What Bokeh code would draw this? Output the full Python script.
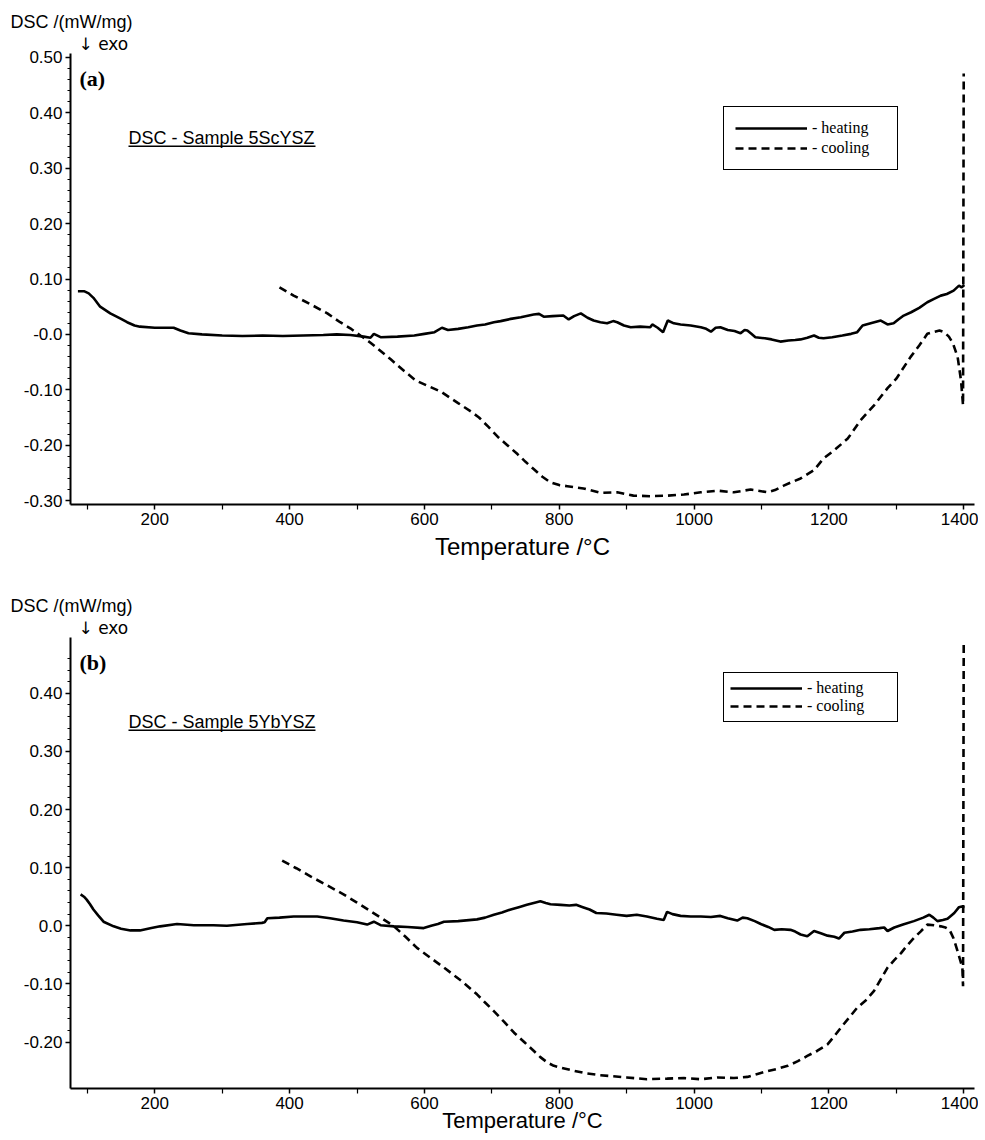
from bokeh.plotting import figure
from bokeh.layouts import column
from bokeh.models import (FixedTicker, CustomJSTickFormatter, Label, BoxAnnotation,
                          Legend, LegendItem, Range1d, Title)
from bokeh.embed import file_html
from bokeh.resources import INLINE

# ---------------- data ----------------
# Panel (a): Sample 5ScYSZ
a_heat_T = [86, 95, 102, 109, 119, 134, 150, 159, 170, 178, 200, 215, 228, 238, 250, 270, 300, 330,
            360, 390, 420, 450, 470, 490, 510, 520, 525, 535, 560, 585, 600, 615, 626, 635, 650, 665,
            678, 690, 703, 713, 728, 743, 762, 770, 777, 790, 806, 814, 822, 832, 842, 851, 861, 871,
            880, 886, 896, 906, 920, 935, 938, 946, 954, 961, 970, 980, 995, 1010, 1018, 1025, 1032,
            1039, 1050, 1060, 1069, 1075, 1079, 1085, 1091, 1105, 1115, 1128, 1140, 1150, 1158, 1168,
            1178, 1185, 1192, 1205, 1220, 1233, 1242, 1250, 1262, 1277, 1287, 1296, 1303, 1311, 1322,
            1334, 1346, 1356, 1366, 1375, 1385, 1393, 1397, 1401]
a_heat_v = [0.078, 0.078, 0.074, 0.066, 0.050, 0.038, 0.028, 0.022, 0.016, 0.014, 0.012, 0.012, 0.012,
            0.007, 0.002, 0.000, -0.002, -0.003, -0.002, -0.003, -0.002, -0.001, 0.000, -0.001, -0.004,
            -0.006, 0.001, -0.005, -0.004, -0.002, 0.001, 0.004, 0.012, 0.008, 0.010, 0.013, 0.016,
            0.018, 0.022, 0.024, 0.028, 0.031, 0.036, 0.037, 0.032, 0.033, 0.034, 0.027, 0.033, 0.038,
            0.030, 0.025, 0.022, 0.020, 0.024, 0.022, 0.016, 0.013, 0.014, 0.013, 0.018, 0.012, 0.004,
            0.025, 0.020, 0.018, 0.016, 0.013, 0.010, 0.005, 0.012, 0.013, 0.008, 0.006, 0.002, 0.008,
            0.007, 0.001, -0.005, -0.007, -0.009, -0.013, -0.011, -0.010, -0.009, -0.006, -0.002,
            -0.006, -0.007, -0.005, -0.002, 0.001, 0.004, 0.016, 0.020, 0.025, 0.018, 0.020, 0.027,
            0.034, 0.040, 0.048, 0.058, 0.064, 0.070, 0.073, 0.079, 0.088, 0.085, 0.089]
a_cool_T = [385, 406, 430, 456, 475, 490, 505, 520, 535, 550, 570, 587, 605, 624, 650, 670, 681, 695,
            709, 723, 738, 750, 762, 775, 787, 800, 812, 836, 861, 886, 910, 935, 961, 985, 1010, 1035,
            1059, 1084, 1109, 1120, 1133, 1146, 1158, 1178, 1192, 1208, 1228, 1247, 1267, 1287, 1300,
            1321, 1334, 1346, 1354, 1364, 1371, 1378, 1384, 1391, 1396, 1399, 1400]
a_cool_v = [0.085, 0.070, 0.055, 0.038, 0.022, 0.011, -0.002, -0.015, -0.030, -0.045, -0.066, -0.083,
            -0.093, -0.103, -0.124, -0.140, -0.150, -0.167, -0.185, -0.200, -0.216, -0.230, -0.243,
            -0.257, -0.267, -0.272, -0.274, -0.278, -0.286, -0.285, -0.291, -0.292, -0.291, -0.289,
            -0.285, -0.282, -0.285, -0.280, -0.285, -0.281, -0.273, -0.266, -0.260, -0.245, -0.224,
            -0.209, -0.188, -0.155, -0.128, -0.097, -0.080, -0.041, -0.020, 0.001, 0.004, 0.007, 0.004,
            -0.004, -0.016, -0.041, -0.083, -0.128, 0.471]

# Panel (b): Sample 5YbYSZ
b_heat_T = [90, 95, 99, 104, 109, 116, 124, 139, 150, 164, 178, 195, 208, 233, 258, 287, 307, 337, 359,
            363, 367, 385, 406, 441, 460, 480, 500, 515, 525, 535, 555, 575, 599, 610, 620, 629, 650,
            678, 690, 703, 715, 728, 740, 752, 765, 772, 780, 787, 802, 815, 825, 835, 845, 855, 870,
            885, 900, 915, 930, 945, 955, 960, 968, 980, 995, 1010, 1025, 1039, 1050, 1064, 1072, 1079,
            1090, 1099, 1110, 1119, 1130, 1143, 1150, 1158, 1168, 1178, 1188, 1198, 1208, 1215, 1223,
            1235, 1247, 1260, 1275, 1282, 1287, 1297, 1310, 1326, 1340, 1349, 1355, 1361, 1369, 1376,
            1386, 1393, 1397, 1401]
b_heat_v = [0.054, 0.050, 0.045, 0.037, 0.028, 0.018, 0.007, -0.001, -0.005, -0.008, -0.008, -0.004,
            -0.001, 0.003, 0.001, 0.001, 0.000, 0.003, 0.005, 0.006, 0.013, 0.014, 0.016, 0.016, 0.013,
            0.009, 0.006, 0.002, 0.007, 0.001, -0.001, -0.002, -0.004, 0.000, 0.003, 0.007, 0.008,
            0.011, 0.014, 0.019, 0.023, 0.028, 0.032, 0.036, 0.040, 0.042, 0.039, 0.037, 0.036, 0.035,
            0.036, 0.032, 0.028, 0.022, 0.021, 0.019, 0.017, 0.019, 0.016, 0.012, 0.010, 0.024, 0.020,
            0.017, 0.016, 0.016, 0.015, 0.017, 0.013, 0.009, 0.014, 0.013, 0.008, 0.003, -0.002, -0.007,
            -0.006, -0.007, -0.010, -0.015, -0.018, -0.009, -0.013, -0.017, -0.019, -0.022, -0.012,
            -0.010, -0.007, -0.006, -0.004, -0.003, -0.009, -0.003, 0.002, 0.008, 0.014, 0.019, 0.014,
            0.008, 0.010, 0.012, 0.022, 0.032, 0.033, 0.031]
b_cool_T = [389, 410, 431, 455, 480, 500, 520, 538, 555, 572, 589, 610, 629, 655, 678, 690, 703, 718,
            733, 748, 762, 772, 782, 792, 802, 820, 840, 860, 880, 900, 930, 960, 985, 1010, 1035, 1059,
            1079, 1094, 1109, 1124, 1139, 1154, 1168, 1183, 1198, 1208, 1218, 1230, 1242, 1255, 1267,
            1277, 1287, 1297, 1307, 1316, 1326, 1336, 1346, 1356, 1366, 1373, 1379, 1385, 1391, 1395,
            1398, 1399, 1400]
b_cool_v = [0.112, 0.099, 0.085, 0.070, 0.054, 0.040, 0.025, 0.012, -0.001, -0.019, -0.038, -0.056,
            -0.072, -0.095, -0.118, -0.132, -0.147, -0.165, -0.184, -0.200, -0.215, -0.226, -0.235,
            -0.241, -0.244, -0.249, -0.254, -0.257, -0.259, -0.261, -0.264, -0.263, -0.262, -0.264,
            -0.261, -0.262, -0.260, -0.255, -0.250, -0.246, -0.241, -0.233, -0.224, -0.215, -0.204,
            -0.190, -0.175, -0.158, -0.141, -0.128, -0.112, -0.092, -0.072, -0.059, -0.047, -0.034,
            -0.021, -0.010, 0.002, 0.001, -0.001, -0.003, -0.007, -0.022, -0.044, -0.060, -0.072,
            -0.104, 0.483]

x_major = [200, 400, 600, 800, 1000, 1200, 1400]
x_minor = [100, 300, 500, 700, 900, 1100, 1300]
a_yticks = [-0.3, -0.2, -0.1, 0.0, 0.1, 0.2, 0.3, 0.4, 0.5]
b_yticks = [-0.2, -0.1, 0.0, 0.1, 0.2, 0.3, 0.4]
legend_labels = ["- heating", "- cooling"]
y_title = "DSC /(mW/mg)"
exo_text = "\u2193 exo"
x_title = "Temperature /\u00b0C"

SANS = "Liberation Sans"
SERIF = "Liberation Serif"


def make_panel(heat_T, heat_v, cool_T, cool_v, ymin, ymax, yticks, zero_label,
               tag, sample, height, top, bottom, legend_y, legend_pad, legend_gh, legend_lw,
               title_size, title_standoff):
    p = figure(width=978, height=height, x_range=Range1d(75, 1416), y_range=Range1d(ymin, ymax),
               output_backend="svg", toolbar_location=None,
               min_border_left=70, min_border_right=4, min_border_top=top, min_border_bottom=bottom)
    p.xgrid.visible = False
    p.ygrid.visible = False
    p.outline_line_color = None
    p.background_fill_color = "white"
    p.border_fill_color = "white"

    # axes
    p.xaxis.ticker = FixedTicker(ticks=x_major, minor_ticks=x_minor)
    p.yaxis.ticker = FixedTicker(ticks=yticks,
                                 minor_ticks=[round(yticks[0] + 0.02 * i, 3)
                                              for i in range(int(round((yticks[-1] - yticks[0]) / 0.02)) + 4)])
    p.yaxis.formatter = CustomJSTickFormatter(
        code="if (Math.abs(tick) < 1e-9) { return '%s'; } return tick.toFixed(2);" % zero_label)
    for ax in (p.xaxis[0], p.yaxis[0]):
        ax.axis_line_width = 2
        ax.axis_line_color = "black"
        ax.major_tick_line_color = "black"
        ax.minor_tick_line_color = "black"
        ax.major_tick_line_width = 1.5
        ax.minor_tick_line_width = 1.2
        ax.major_tick_in = 0
        ax.minor_tick_in = 0
        ax.major_label_text_font = SANS
        ax.major_label_text_font_size = "17px"
        ax.major_label_text_color = "black"
    p.xaxis.major_tick_out = 5
    p.xaxis.minor_tick_out = 5
    p.xaxis.major_label_standoff = 3
    p.yaxis.major_tick_out = 5
    p.yaxis.minor_tick_out = 3
    p.yaxis.major_label_standoff = 3
    p.xaxis.axis_label = x_title
    p.xaxis.axis_label_text_font = SANS
    p.xaxis.axis_label_text_font_size = title_size
    p.xaxis.axis_label_text_font_style = "normal"
    p.xaxis.axis_label_text_color = "black"
    p.xaxis.axis_label_standoff = title_standoff

    r_heat = p.line(heat_T, heat_v, line_color="black", line_width=2.6)
    r_cool = p.line(cool_T, cool_v, line_color="black", line_width=2.6, line_dash="8 5")

    # y-axis title and exo marker above the frame (nearest first)
    p.add_layout(Title(text=exo_text, align="left", offset=8, standoff=0,
                       text_font="DejaVu Sans", text_font_size="17px", text_font_style="normal",
                       text_color="black"), "above")
    p.add_layout(Title(text=y_title, align="left", offset=-60, standoff=0,
                       text_font=SANS, text_font_size="18px", text_font_style="normal",
                       text_color="black"), "above")

    fh = 451  # frame height in px
    # panel tag
    p.add_layout(Label(x=9, y=fh - 25, x_units="screen", y_units="screen", text=tag,
                       text_font=SERIF, text_font_style="bold", text_font_size="22px",
                       text_baseline="middle", text_color="black"))
    # sample caption with underline
    p.add_layout(Label(x=58, y=fh - 84, x_units="screen", y_units="screen", text=sample,
                       text_font=SANS, text_font_size="18px", text_baseline="middle", text_color="black"))
    p.add_layout(BoxAnnotation(left=58, right=245, bottom=fh - 93.5, top=fh - 92,
                               left_units="screen", right_units="screen",
                               bottom_units="screen", top_units="screen",
                               fill_color="black", fill_alpha=1, line_color=None))

    legend = Legend(items=[LegendItem(label=legend_labels[0], renderers=[r_heat]),
                           LegendItem(label=legend_labels[1], renderers=[r_cool])],
                    location=(653, legend_y), orientation="vertical",
                    glyph_width=72, glyph_height=legend_gh, label_height=legend_gh,
                    label_standoff=5, label_width=legend_lw, padding=legend_pad, spacing=0, margin=0,
                    border_line_color="black", border_line_width=1, border_line_alpha=1,
                    background_fill_color="white", background_fill_alpha=1,
                    label_text_font=SERIF, label_text_font_size="16px", label_text_color="black")
    p.add_layout(legend)
    return p


pa = make_panel(a_heat_T, a_heat_v, a_cool_T, a_cool_v, -0.307, 0.507, a_yticks, "-0.0",
                "(a)", "DSC - Sample 5ScYSZ", height=575, top=53, bottom=71,
                legend_y=334, legend_pad=11, legend_gh=20, legend_lw=74,
                title_size="24px", title_standoff=5)
pb = make_panel(b_heat_T, b_heat_v, b_cool_T, b_cool_v, -0.280, 0.496, b_yticks, "0.0",
                "(b)", "DSC - Sample 5YbYSZ", height=565, top=62, bottom=52,
                legend_y=366, legend_pad=6, legend_gh=18, legend_lw=84,
                title_size="22px", title_standoff=-4)

layout = column(pa, pb, spacing=0)
open("out.html", "w").write(file_html(layout, INLINE))
